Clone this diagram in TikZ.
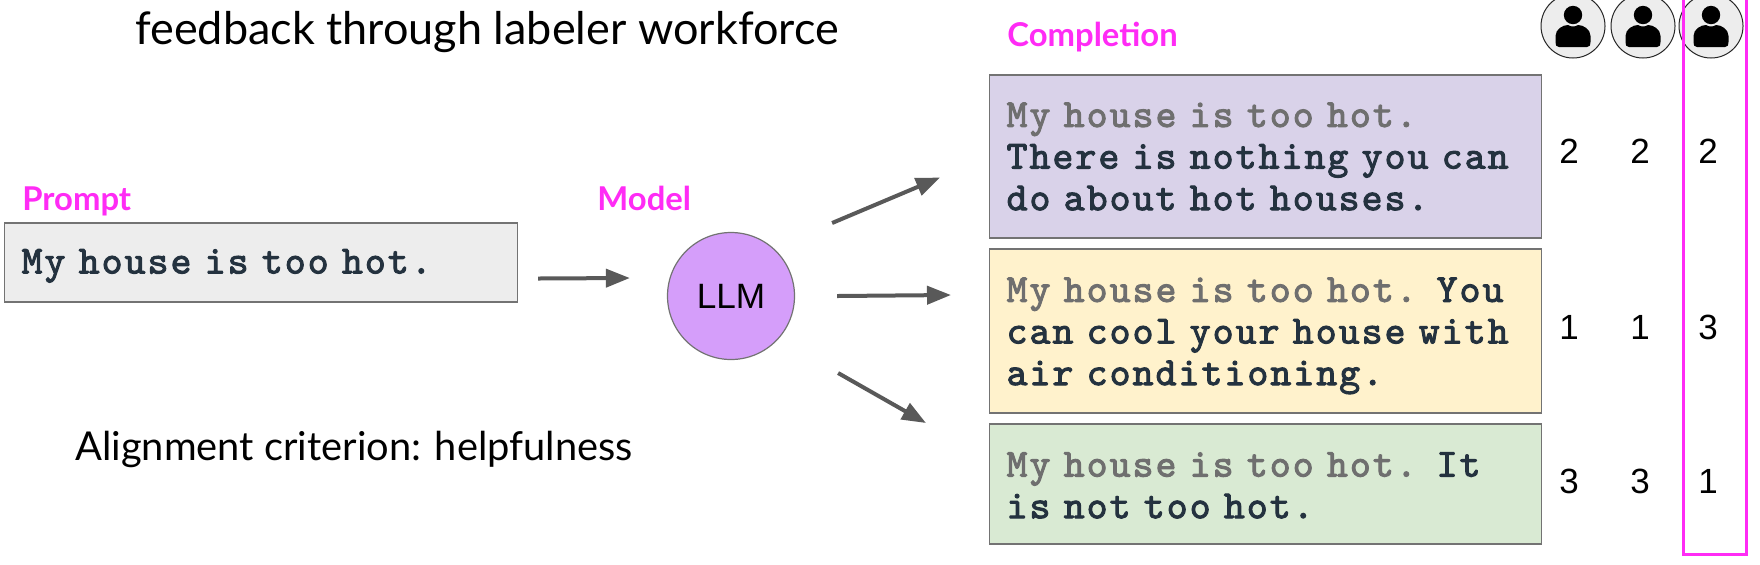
\documentclass[tikz,border=0pt]{standalone}
\usepackage{fontspec}
\setmainfont{Lato}
\newfontfamily\plainfont{Liberation Sans}
\newfontfamily\cardfont{lmmono10-regular}[Extension=.otf,FakeBold=2.5,LetterSpace=5.2]
\usetikzlibrary{arrows.meta,positioning}

\definecolor{tagpink}{HTML}{FF2BF5}
\definecolor{inkdark}{HTML}{24323F}
\definecolor{inkgray}{HTML}{6F6F6F}
\definecolor{arrowgray}{HTML}{595959}

\tikzset{
  tag/.style={text=tagpink, font=\fontsize{16.4}{20}\selectfont\bfseries, inner sep=0pt},
  heading/.style={inner sep=0pt},
  textbox/.style={draw=black!55, line width=.6pt, inner xsep=8.5pt, inner ysep=0pt,
    text=inkdark, font=\cardfont\fontsize{19.9}{20.8}\selectfont},
  card/.style={textbox, minimum width=276pt, text width=259pt},
  score/.style={font=\plainfont\fontsize{17.5}{20}\selectfont, inner sep=0pt},
  usercircle/.style={circle, draw=black!85, fill=black!7, line width=.5pt, minimum size=32pt, inner sep=0pt},
  feed/.style={draw=arrowgray, line width=2pt, -{Triangle[length=12pt,width=9pt]}},
  labeler/.pic={
    \fill (0,-11) circle [radius=4.6pt];
    \fill (-14,21) -- (14,21) .. controls (17,21) and (17.5,19) .. (17.5,16) -- (17.5,10)
      .. controls (17.5,3) and (10,-1) .. (5,-1) .. controls (2,1) and (-2,1) .. (-5,-1)
      .. controls (-10,-1) and (-17.5,3) .. (-17.5,10) -- (-17.5,16)
      .. controls (-17.5,19) and (-17,21) .. (-14,21) -- cycle;
  }
}
\newcommand{\given}[1]{\textcolor{inkgray}{#1}}
\newcommand{\drop}[1]{\rule{0pt}{#1}}

\begin{document}
\begin{tikzpicture}[x=.5pt,y=-.5pt]
  \useasboundingbox (0,0) rectangle (1760,564);

  \node[heading, font=\fontsize{22.5}{27}\selectfont] (title) at (487,32) {feedback through labeler workforce};
  \node[heading, font=\fontsize{19.9}{24}\selectfont] (criterion) at (354,449) {Alignment criterion: helpfulness};

  \node[textbox, minimum width=256.5pt, minimum height=39.5pt, text width=239.5pt, anchor=west, fill=black!7] (prompt) at (4,262.5)
       {\drop{15.5pt}My house is too hot.};
  \node[tag, anchor=base west] (prompt_tag) at (22,210) {Prompt};

  \node[circle, draw=black!55, line width=.6pt, fill={rgb,255:red,213;green,158;blue,250},
        minimum size=63.5pt, inner sep=0pt, font=\plainfont\fontsize{17.6}{20}\selectfont] (llm) at (731,296) {LLM};
  \node[tag, anchor=base west] (model_tag) at (597,210) {Model};

  \node[tag, anchor=base west] (completion_tag) at (1007,46) {Completion};
  \node[card, anchor=west, minimum height=81.5pt, fill={rgb,255:red,217;green,210;blue,233}] (card_1) at (989,156.5)
       {\given{My house is too hot.}\\There is nothing you can\\do about hot houses.};
  \node[card, anchor=west, minimum height=82pt, fill={rgb,255:red,255;green,242;blue,204}] (card_2) at (989,331)
       {\drop{17pt}\given{My house is too hot.} You\\can cool your house with\\air conditioning.};
  \node[card, anchor=west, minimum height=60pt, fill={rgb,255:red,217;green,234;blue,211}] (card_3) at (989,484)
       {\drop{13.5pt}\given{My house is too hot.} It\\is not too hot.};

  \draw[feed] ([shift={(20,16)}]prompt.east) -- ([shift={(-37,-18)}]llm.west);
  \draw[feed] ([shift={(37,-73)}]llm.east) -- ([shift={(-49,21)}]card_1.west);
  \draw[feed] ([shift={(42,0)}]llm.east) -- ([shift={(-38,-36)}]card_2.west);
  \draw[feed] ([shift={(43,77)}]llm.east) -- ([shift={(-63,-61)}]card_3.west);

  \node[usercircle] (user_1) at (1573,26) {};
  \node[usercircle] (user_2) at (1643,26) {};
  \node[usercircle] (user_3) at (1711,26) {};
  \pic at (user_1) {labeler};
  \pic at (user_2) {labeler};
  \pic at (user_3) {labeler};

  \node[score] (s_11) at (1569,151) {2};
  \node[score] (s_12) at (1640,151) {2};
  \node[score] (s_13) at (1708,151) {2};
  \node[score] (s_21) at (1569,327) {1};
  \node[score] (s_22) at (1640,327) {1};
  \node[score] (s_23) at (1708,327) {3};
  \node[score] (s_31) at (1569,481) {3};
  \node[score] (s_32) at (1640,481) {3};
  \node[score] (s_33) at (1708,481) {1};

  \node[draw=tagpink, line width=1.5pt, minimum width=31.5pt, minimum height=282pt, inner sep=0pt, outer sep=0pt, anchor=south west] (rank_box) at (1683,554) {};
\end{tikzpicture}
\end{document}
